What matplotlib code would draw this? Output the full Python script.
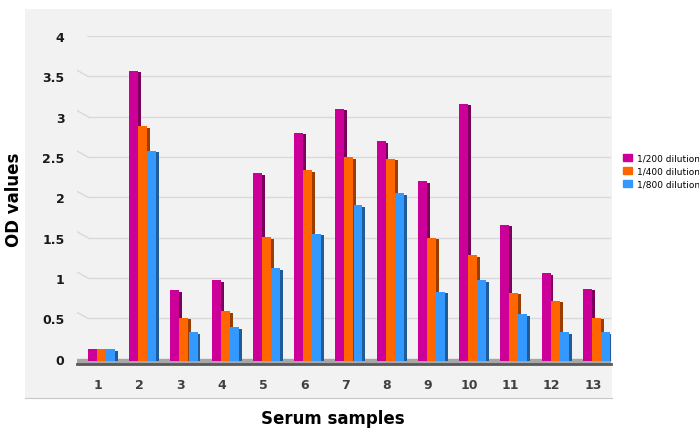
import matplotlib.pyplot as plt
import matplotlib.patches as mpatches
from matplotlib.colors import to_rgb
import numpy as np

samples = [str(i) for i in range(1, 14)]
dil_200 = [0.12, 3.57, 0.85, 0.97, 2.30, 2.80, 3.10, 2.70, 2.20, 3.16, 1.66, 1.06, 0.87]
dil_400 = [0.12, 2.88, 0.51, 0.59, 1.51, 2.34, 2.50, 2.48, 1.50, 1.28, 0.82, 0.72, 0.51]
dil_800 = [0.12, 2.58, 0.33, 0.39, 1.12, 1.55, 1.90, 2.05, 0.83, 0.97, 0.55, 0.33, 0.33]
series_names = ['1/200 dilution', '1/400 dilution', '1/800 dilution']
colors = ['#cc0099', '#ff6600', '#3399ff']
yticks = [0, 0.5, 1, 1.5, 2, 2.5, 3, 3.5, 4]


def darker(c, f=0.6):
    r, g, b = to_rgb(c)
    return (r * f, g * f, b * f)


fig = plt.figure(figsize=(6.99, 4.39), dpi=100)
fig.patch.set_facecolor('white')

# light grey chart area as a background axes
bg = fig.add_axes([25 / 699, 1 - 399 / 439, 587 / 699, 389 / 439])
bg.set_facecolor('#f2f2f2')
bg.set_xticks([])
bg.set_yticks([])
for s in ['top', 'right', 'left']:
    bg.spines[s].set_visible(False)
bg.spines['bottom'].set_color('#c8c8c8')
bg.set_zorder(0)

ax = fig.add_axes([77 / 699, 1 - 365 / 439, 534 / 699, 328 / 439])
ax.set_zorder(1)
ax.set_facecolor('none')
x = np.arange(1, 14)
ax.set_xlim(0.491, 13.44)
ax.set_ylim(-0.065, 4.0)

# back wall gridlines with a short slanted piece on the left
x0, x1 = 0.491, 0.758
for t in yticks[1:]:
    ax.plot([x1, 13.44], [t, t], color='#d9d9d9', lw=1, zorder=1)
    ax.plot([x0, x1], [t + 0.075, t], color='#d9d9d9', lw=1, zorder=1)

# floor
ax.axhspan(-0.065, 0.0, color='#a6a6a6', zorder=1)

w = 0.218
side = 0.07
offsets = [-0.135, 0.085, 0.305]
for vals, off, c in zip([dil_200, dil_400, dil_800], offsets, colors):
    vals = np.array(vals)
    ax.bar(x + off + w / 2 + side / 2, vals - 0.02 + 0.03, width=side, bottom=-0.03,
           color=darker(c), zorder=2, linewidth=0)
    ax.bar(x + off, vals + 0.03, width=w, bottom=-0.03, color=c, zorder=3, linewidth=0)

for s in ['top', 'right', 'left']:
    ax.spines[s].set_visible(False)
ax.spines['bottom'].set_color('#595959')
ax.spines['bottom'].set_linewidth(2)

ax.set_yticks(yticks)
ax.set_yticklabels(['0', '0.5', '1', '1.5', '2', '2.5', '3', '3.5', '4'],
                   fontsize=9, fontweight='bold', color='#1a1a1a')
ax.set_xticks(x)
ax.set_xticklabels(samples, fontsize=9, fontweight='bold', color='#404040')
ax.tick_params(axis='both', length=0)
ax.tick_params(axis='x', pad=10)
ax.tick_params(axis='y', pad=9)

fig.text(14 / 699, 1 - 200 / 439, 'OD values', rotation=90, ha='center', va='center',
         fontsize=12, fontweight='bold')
fig.text(333 / 699, 1 - 419 / 439, 'Serum samples', ha='center', va='center',
         fontsize=12, fontweight='bold')

handles = [mpatches.Patch(color=c, label=n) for c, n in zip(colors, series_names)]
fig.legend(handles=handles, loc='center left', bbox_to_anchor=(618 / 699, 1 - 172 / 439),
           frameon=False, fontsize=6.5, handlelength=1.0, handleheight=0.8,
           handletextpad=0.5, labelspacing=0.45, borderaxespad=0.2)

fig.savefig('out.png', dpi=100)
